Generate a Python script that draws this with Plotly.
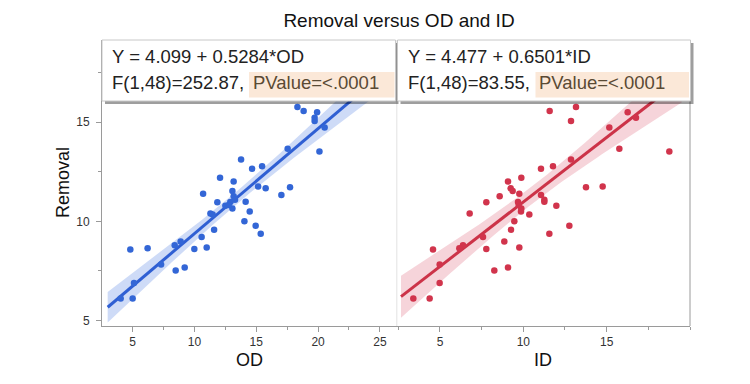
import numpy as np
import plotly.graph_objects as go

# ---------------- data ----------------
removal = [15.76, 15.55, 15.49, 15.22, 15.05, 14.72, 13.66, 13.51, 13.11, 12.65,
           12.77, 12.20, 12.00, 11.75, 11.66, 11.71, 11.32, 11.39, 11.53, 11.26,
           11.09, 10.96, 10.97, 10.99, 10.79, 10.64, 10.50, 10.39, 10.35, 10.00,
           9.78, 9.38, 9.58, 9.21, 8.79, 8.98, 8.61, 8.68, 7.83, 8.58,
           8.64, 7.53, 7.68, 6.89, 6.11, 6.11, 16.23, 10.82, 17.20, 16.50]
od = [18.33, 18.83, 19.92, 19.72, 19.72, 20.53, 17.54, 20.11, 13.77, 14.66,
      15.47, 12.07, 13.17, 15.15, 15.76, 17.73, 17.03, 10.70, 13.07, 13.17,
      13.28, 11.85, 12.90, 14.14, 12.50, 13.07, 14.47, 11.29, 11.47, 14.04,
      14.95, 15.36, 11.59, 10.58, 8.40, 8.88, 9.99, 10.99, 7.30, 4.81,
      6.21, 8.48, 9.21, 5.11, 4.03, 5.00, 20.40, 12.77, 24.00, 22.00]
id_ = [13.16, 11.58, 16.26, 16.76, 12.86, 15.16, 15.76, 18.76, 12.86, 11.06,
       11.78, 9.88, 9.08, 14.76, 9.24, 13.76, 11.06, 9.76, 9.36, 8.58,
       11.26, 7.78, 9.68, 11.26, 11.98, 9.88, 9.86, 6.78, 10.36, 9.46,
       12.76, 11.56, 9.26, 7.58, 6.38, 8.86, 7.78, 9.76, 4.98, 4.58,
       6.16, 8.26, 9.08, 4.98, 3.40, 4.38, 13.10, 9.72, 19.50, 17.00]

# fitted models as reported in the chart
od_fit = dict(b0=4.099, b1=0.5284, F="252.87", p="<.0001", span=[2.98, 25.0])
id_fit = dict(b0=4.477, b1=0.6501, F="83.55", p="<.0001", span=[2.66, 19.5])
df_model, df_error = 1, 48
t_crit = 2.0106

title_text = "Removal versus OD and ID"
y_label = "Removal"
x_labels = ["OD", "ID"]

x_ranges = [[2.52, 26.37], [2.41, 20.0]]
y_range = [4.73, 19.13]
x_ticks = [[5, 10, 15, 20, 25], [5, 10, 15]]
y_ticks = [5, 10, 15]

BLUE = "#3366d6"
BLUE_LINE = "#2f5fd3"
BLUE_BAND = "rgba(60,110,225,0.25)"
RED = "#d1344c"
RED_LINE = "#cc3348"
RED_BAND = "rgba(215,60,85,0.22)"

# ---------------- figure geometry ----------------
# the page body has an 8px default margin, so the figure is offset by 8px
OFF = 8
W, H = 750, 384
ML, MR, MT, MB = 94, 68, 32, 66
PW, PH = W - ML - MR, H - MT - MB
split = 0.5014


def px(xp):  # window pixel -> paper x
    return (xp - OFF - ML) / PW


def py(yp):  # window pixel -> paper y
    return (H - MB - (yp - OFF)) / PH


def band(x, y, fit):
    x = np.asarray(x, float)
    y = np.asarray(y, float)
    n = len(x)
    xbar = x.mean()
    sxx = ((x - xbar) ** 2).sum()
    resid = y - (fit["b0"] + fit["b1"] * x)
    s = np.sqrt((resid ** 2).sum() / (n - 2))
    xg = np.linspace(fit["span"][0], fit["span"][1], 120)
    yh = fit["b0"] + fit["b1"] * xg
    se = s * np.sqrt(1.0 / n + (xg - xbar) ** 2 / sxx)
    return xg, yh, yh - t_crit * se, yh + t_crit * se


fig = go.Figure()

for k, (xv, fit, c, cl, cb) in enumerate([(od, od_fit, BLUE, BLUE_LINE, BLUE_BAND),
                                          (id_, id_fit, RED, RED_LINE, RED_BAND)]):
    xa = "x" if k == 0 else "x2"
    xg, yh, lo, hi = band(xv, removal, fit)
    fig.add_trace(go.Scatter(x=np.concatenate([xg, xg[::-1]]),
                             y=np.concatenate([hi, lo[::-1]]),
                             fill="toself", fillcolor=cb, line=dict(width=0),
                             mode="lines", hoverinfo="skip", showlegend=False,
                             xaxis=xa, yaxis="y"))
    fig.add_trace(go.Scatter(x=xg, y=yh, mode="lines",
                             line=dict(color=cl, width=3),
                             showlegend=False, xaxis=xa, yaxis="y"))
    fig.add_trace(go.Scatter(x=xv, y=removal, mode="markers",
                             marker=dict(color=c, size=6.5),
                             showlegend=False, xaxis=xa, yaxis="y"))

FONT = "Liberation Sans, Arial, Helvetica, sans-serif"
axis_common = dict(showgrid=False, zeroline=False, showline=True,
                   linecolor="#9a9a9a", linewidth=1, ticks="outside",
                   ticklen=5, tickcolor="#9a9a9a", tickwidth=1,
                   tickfont=dict(family=FONT, size=12, color="#333333"))
minor = dict(dtick=2.5, tick0=0, ticks="outside", ticklen=3, tickcolor="#9a9a9a")

fig.update_layout(
    width=W, height=H,
    margin=dict(l=ML, r=MR, t=MT, b=MB),
    paper_bgcolor="white", plot_bgcolor="white",
    xaxis=dict(domain=[0, split], range=x_ranges[0], tickvals=x_ticks[0],
               minor=minor, anchor="y", **axis_common),
    xaxis2=dict(domain=[split, 1], range=x_ranges[1], tickvals=x_ticks[1],
                minor=minor, anchor="y", **axis_common),
    yaxis=dict(range=y_range, tickvals=y_ticks, minor=minor,
               ticklabelstandoff=4, **axis_common),
    title=dict(text=title_text, x=(399 - OFF) / W, xanchor="center",
               y=1 - (20 - OFF) / H, yanchor="middle",
               font=dict(family=FONT, size=19, color="#111111")),
)

shapes = []
# panel divider and right border
shapes.append(dict(type="line", xref="paper", yref="paper", x0=split, x1=split,
                   y0=0, y1=1, line=dict(color="#e2e2e2", width=1)))
shapes.append(dict(type="line", xref="paper", yref="paper", x0=1, x1=1,
                   y0=0, y1=1, line=dict(color="#9a9a9a", width=1)))

annotations = []
boxes = [
    dict(x0=102, x1=395.5, tx=110.5, ptx0=249, ptx1=394.5, ptx=251.5,
         fit=od_fit, name=x_labels[0]),
    dict(x0=397.5, x1=690.5, tx=407, ptx0=535.5, ptx1=689, ptx=538,
         fit=id_fit, name=x_labels[1]),
]
for b in boxes:
    # shadow
    shapes.append(dict(type="rect", xref="paper", yref="paper", layer="above",
                       x0=px(b["x0"] + 3), x1=px(b["x1"] + 3),
                       y0=py(104), y1=py(43),
                       fillcolor="rgba(0,0,0,0.38)", line=dict(width=0)))
    shapes.append(dict(type="rect", xref="paper", yref="paper", layer="above",
                       x0=px(b["x0"]), x1=px(b["x1"]), y0=py(101), y1=py(40),
                       fillcolor="white", line=dict(color="#c8c8c8", width=1)))
    shapes.append(dict(type="rect", xref="paper", yref="paper", layer="above",
                       x0=px(b["ptx0"]), x1=px(b["ptx1"]), y0=py(97.5), y1=py(72),
                       fillcolor="#fbe8d8", line=dict(width=0)))
    f = b["fit"]
    annotations.append(dict(xref="paper", yref="paper", x=px(b["tx"]), y=py(56),
                            xanchor="left", yanchor="middle", showarrow=False,
                            borderpad=0,
                            text=f"Y = {f['b0']:.3f} + {f['b1']:.4f}*{b['name']}",
                            font=dict(family=FONT, size=18.5, color="#222222")))
    annotations.append(dict(xref="paper", yref="paper", x=px(b["tx"]), y=py(82),
                            xanchor="left", yanchor="middle", showarrow=False,
                            borderpad=0,
                            text=f"F({df_model},{df_error})={f['F']},",
                            font=dict(family=FONT, size=18.5, color="#222222")))
    annotations.append(dict(xref="paper", yref="paper", x=px(b["ptx"]), y=py(82),
                            xanchor="left", yanchor="middle", showarrow=False,
                            borderpad=0,
                            text=f"PValue={f['p']}",
                            font=dict(family=FONT, size=18.5, color="#5a4a34")))

# axis titles
annotations.append(dict(xref="paper", yref="paper", x=split / 2, y=py(360),
                        xanchor="center", yanchor="middle", showarrow=False,
                        text=x_labels[0], font=dict(family=FONT, size=18, color="#111111")))
annotations.append(dict(xref="paper", yref="paper", x=(split + 1) / 2, y=py(360),
                        xanchor="center", yanchor="middle", showarrow=False,
                        text=x_labels[1], font=dict(family=FONT, size=18, color="#111111")))
annotations.append(dict(xref="paper", yref="paper", x=px(63), y=py(183),
                        xanchor="center", yanchor="middle", showarrow=False,
                        textangle=-90,
                        text=y_label, font=dict(family=FONT, size=18, color="#111111")))

fig.update_layout(shapes=shapes, annotations=annotations)
fig.write_html("out.html")
